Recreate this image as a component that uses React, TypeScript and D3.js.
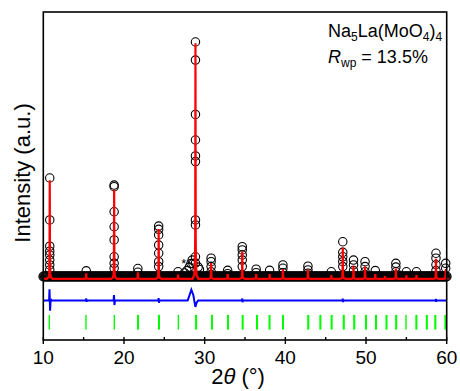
import React from "react";
import * as d3 from "d3";

const W = 460;
const H = 391;
const left = 43.3;
const right = 446.7;
const top = 12;
const bottom = 340;

const xTicks = [10, 20, 30, 40, 50, 60];
const xMinor = [15, 25, 35, 45, 55];

// calculated profile: [2theta, peak height]
const calcPeaks: [number, number][] = [
  [10.8, 42], [15.32, 2.3], [18.78, 38], [21.72, 2.8], [24.3, 21.2],
  [26.7, 1.8], [28.86, 100.5], [30.8, 6.7], [32.85, 2.0], [34.66, 11.6],
  [36.38, 2.0], [38.05, 2.0], [39.7, 4.2], [42.8, 4.0], [45.7, 1.6],
  [47.12, 13.4], [48.45, 5.6], [49.88, 5.2], [51.15, 2.0], [52.35, 1.2],
  [53.7, 4.4], [55.0, 1.5], [56.25, 1.6], [58.67, 8.5], [59.88, 4.2],
];

// observed points sitting on the peaks
const obsPeaks: { pos: number; heights: number[] }[] = [
  { pos: 10.8, heights: [42.0, 24.1, 12.9, 10.8, 9.2, 7.0, 4.9, 2.8] },
  { pos: 15.32, heights: [2.4] },
  { pos: 18.78, heights: [39.0, 38.3, 27.6, 21.2, 15.6, 8.4, 5.6, 3.5] },
  { pos: 21.72, heights: [3.4, 1.8] },
  { pos: 24.3, heights: [21.5, 20.1, 17.7, 13.4, 9.9, 6.3, 4.2] },
  { pos: 26.7, heights: [2.0] },
  { pos: 28.86, heights: [100, 92.3, 69.1, 58.2, 51.4, 49.0, 24.1, 22.0, 8.4, 5.7] },
  { pos: 30.8, heights: [7.8, 6.3, 4.2, 2.0] },
  { pos: 32.85, heights: [2.6, 1.2] },
  { pos: 34.66, heights: [12.7, 11.3, 9.2, 7.0, 4.2] },
  { pos: 36.38, heights: [3.1, 1.6] },
  { pos: 38.05, heights: [2.6] },
  { pos: 39.7, heights: [4.9, 3.5, 1.6] },
  { pos: 42.8, heights: [4.4, 2.8, 1.4] },
  { pos: 45.7, heights: [2.0] },
  { pos: 47.12, heights: [14.8, 10.3, 8.4, 6.3, 4.2] },
  { pos: 48.45, heights: [7.0, 4.9, 2.5] },
  { pos: 49.88, heights: [6.3, 4.2, 2.0] },
  { pos: 51.15, heights: [2.5] },
  { pos: 53.7, heights: [5.6, 4.0, 2.0] },
  { pos: 55.0, heights: [2.0] },
  { pos: 56.25, heights: [2.0] },
  { pos: 58.67, heights: [9.9, 7.8, 5.0, 2.5] },
  { pos: 59.88, heights: [5.6, 3.5] },
];

// impurity shoulder (*) near 28 deg
const impurityObs: [number, number][] = [
  [27.5, 1.5], [27.8, 2.5], [28.1, 4.0], [28.3, 5.5], [28.45, 7.0],
  [28.55, 5.5], [29.2, 4.0], [29.35, 3.0],
];

// difference curve (obs - calc)
const diffPoints: [number, number][] = [
  [10, 0], [10.72, 0], [10.77, 4.7], [10.84, -4.4], [10.92, 0.6], [11.0, 0],
  [15.28, 0], [15.32, 0.8], [15.37, -0.6], [15.42, 0],
  [18.72, 0], [18.76, 2.3], [18.82, -2.0], [18.88, 0],
  [24.26, 0], [24.29, 1.0], [24.34, -1.0], [24.4, 0],
  [27.9, 0], [28.15, 2.5], [28.35, 4.5], [28.6, 2.2], [28.85, -2.8], [29.0, -1.0], [29.2, 0],
  [34.63, 0], [34.66, 0.8], [34.7, -0.8], [34.74, 0],
  [47.08, 0], [47.11, 0.7], [47.16, -0.7], [47.2, 0],
  [58.63, 0], [58.66, 0.6], [58.7, -0.6], [58.74, 0], [60, 0],
];

// Bragg reflection positions
const braggPos = [
  10.74, 15.29, 18.8, 21.7, 21.78, 24.3, 24.38, 26.74, 28.9, 28.98, 30.87, 30.95,
  32.85, 32.93, 34.67, 34.75, 36.45, 36.53, 38.0, 38.08, 39.67, 39.75, 42.8, 42.88,
  44.3, 44.38, 45.7, 45.78, 47.2, 47.28, 48.5, 48.58, 49.96, 50.04, 51.2, 51.28,
  52.5, 52.58, 53.7, 53.78, 54.96, 56.2, 56.28, 57.5, 57.58, 58.55, 58.63, 59.8, 59.88,
];

// peak shape template for the calculated line
const shapeOffsets = [-0.35, -0.15, -0.07, -0.03, 0, 0.03, 0.07, 0.15, 0.35];
const shapeFrac = [0, 0.015, 0.05, 0.18, 1, 0.18, 0.05, 0.015, 0];

const calcBg = -1.0;
const obsBg = 0;
const diffOffset = -10.2;

export default function App() {
  const x = d3.scaleLinear().domain([10, 60]).range([left, right]);
  const y = d3.scaleLinear().domain([-27.1, 112.8]).range([bottom, top]);

  const calcPts: [number, number][] = [[10, calcBg]];
  calcPeaks.forEach(([p, h]) => {
    shapeOffsets.forEach((o, i) => calcPts.push([p + o, calcBg + h * shapeFrac[i]]));
  });
  calcPts.push([60, calcBg]);
  calcPts.sort((a, b) => a[0] - b[0]);

  const line = d3
    .line<[number, number]>()
    .x((d) => x(d[0]))
    .y((d) => y(d[1]));

  const diffLine = d3
    .line<[number, number]>()
    .x((d) => x(d[0]))
    .y((d) => y(diffOffset + d[1]));

  const scan = d3.range(10, 60.001, 0.1);
  const font = "'Liberation Sans', Arial, sans-serif";

  return (
    <svg
      width={W}
      height={H}
      style={{ position: "absolute", left: 0, top: 0, background: "#fff" }}
      fontFamily={font}
    >
      <rect x={0} y={0} width={W} height={H} fill="#fff" />
      <g fill="none" stroke="#000" strokeWidth={1.1}>
        {scan.map((t, i) => (
          <circle key={"b" + i} cx={x(t)} cy={y(obsBg)} r={4.4} />
        ))}
        {impurityObs.map(([t, v], i) => (
          <circle key={"imp" + i} cx={x(t)} cy={y(v)} r={4.2} />
        ))}
        {obsPeaks.map((pk, i) =>
          pk.heights.map((v, j) => (
            <circle key={"p" + i + "_" + j} cx={x(pk.pos)} cy={y(v)} r={4.2} />
          ))
        )}
      </g>
      <path d={line(calcPts) || ""} fill="none" stroke="#ff0000" strokeWidth={2.2} />
      <path d={diffLine(diffPoints) || ""} fill="none" stroke="#0000ff" strokeWidth={2} />
      <g stroke="#00ff00" strokeWidth={1.4}>
        {braggPos.map((t, i) => (
          <line key={"g" + i} x1={x(t)} x2={x(t)} y1={y(-16.4)} y2={y(-22.6)} />
        ))}
      </g>
      <text x={x(27.4)} y={y(6.3) + 6} fontSize={13} textAnchor="middle" fill="#000">
        *
      </text>

      <rect
        x={left}
        y={top}
        width={right - left}
        height={bottom - top}
        fill="none"
        stroke="#000"
        strokeWidth={1.6}
      />
      <g stroke="#000" strokeWidth={1.4}>
        {xTicks.map((t) => (
          <line key={"mt" + t} x1={x(t)} x2={x(t)} y1={bottom - 3} y2={bottom + 4} />
        ))}
        {xMinor.map((t) => (
          <line key={"mn" + t} x1={x(t)} x2={x(t)} y1={bottom - 3} y2={bottom} />
        ))}
      </g>
      <g fontSize={19} fill="#000" textAnchor="middle">
        {xTicks.map((t) => (
          <text key={"tl" + t} x={x(t)} y={364}>
            {t}
          </text>
        ))}
      </g>
      <text x={238} y={384} fontSize={22} textAnchor="middle" fill="#000">
        2<tspan fontStyle="italic">θ</tspan> (°)
      </text>
      <text
        transform="translate(30, 173) rotate(-90)"
        fontSize={22}
        textAnchor="middle"
        fill="#000"
      >
        Intensity (a.u.)
      </text>

      <text x={328} y={37} fontSize={18} fill="#000">
        Na<tspan fontSize={12} dy={4}>5</tspan>
        <tspan dy={-4}>La(MoO</tspan>
        <tspan fontSize={12} dy={4}>4</tspan>
        <tspan dy={-4}>)</tspan>
        <tspan fontSize={12} dy={4}>4</tspan>
      </text>
      <text x={328} y={63} fontSize={18} fill="#000">
        <tspan fontStyle="italic">R</tspan>
        <tspan fontSize={12} dy={4}>wp</tspan>
        <tspan dy={-4}> = 13.5%</tspan>
      </text>
    </svg>
  );
}
